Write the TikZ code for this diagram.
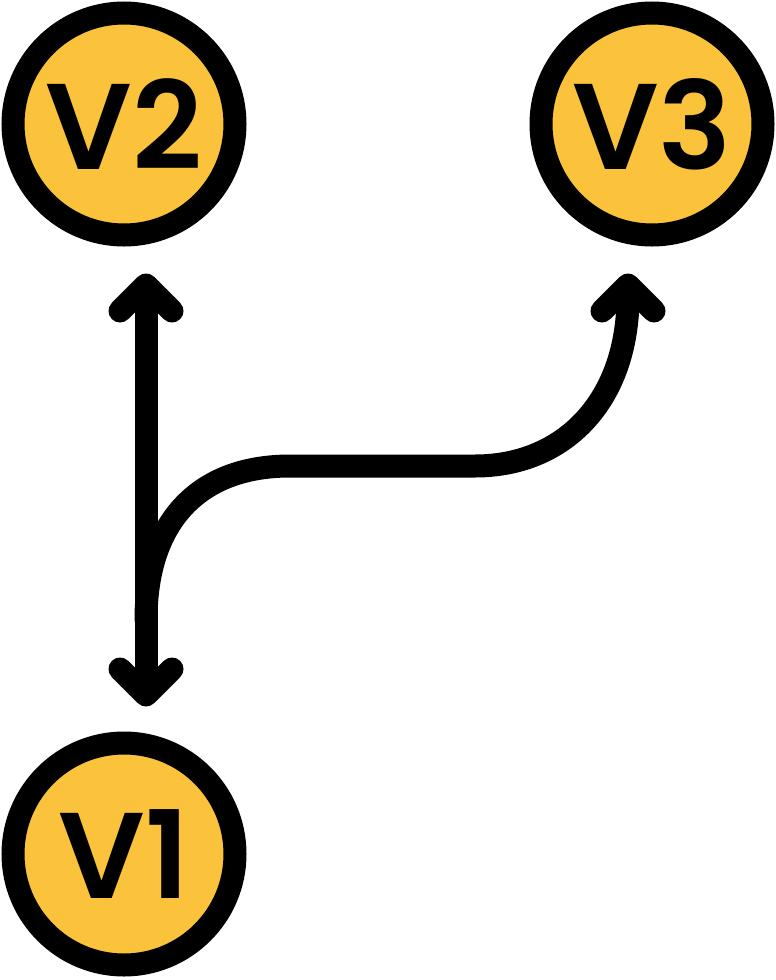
\documentclass[tikz,border=0pt]{standalone}
\usepackage{fontspec}
\setmainfont{Poppins}[BoldFont={* SemiBold}]
\usetikzlibrary{arrows.meta}
\definecolor{vgelb}{RGB}{251,195,59}

\begin{document}
\begin{tikzpicture}[x=1pt, y=-1pt, >={Straight Barb[length=26pt, width=52pt, round]},
		knoten/.style={circle, draw=black, fill=vgelb, line width=23pt, minimum size=222pt, inner sep=0pt, font=\fontsize{122}{122}\selectfont\bfseries},
		pfeil/.style={line width=23pt, line cap=round, line join=round}]
			%Bildbereich
			\useasboundingbox (0,0) rectangle (776,980);
			% Knoten zeichnen
			\node[knoten] (v2) at (124,124) {V2};
			\node[knoten] (v3) at (652,124) {V3};
			\node[knoten] (v1) at (124,854) {V1};
			% Abzweigung
			\coordinate (gabel) at (146,620);
			% Pfeile zeichnen
			\draw[pfeil, <->] ([shift={(22,27)}]v2.south) -- ([shift={(22,-25)}]v1.north);
			\draw[pfeil, ->] (gabel) .. controls (146,520) and (200,466) .. (290,466) -- (475,466)
				.. controls (565,466) and (628,400) .. ([shift={(-24,27)}]v3.south);
		\end{tikzpicture}
\end{document}
